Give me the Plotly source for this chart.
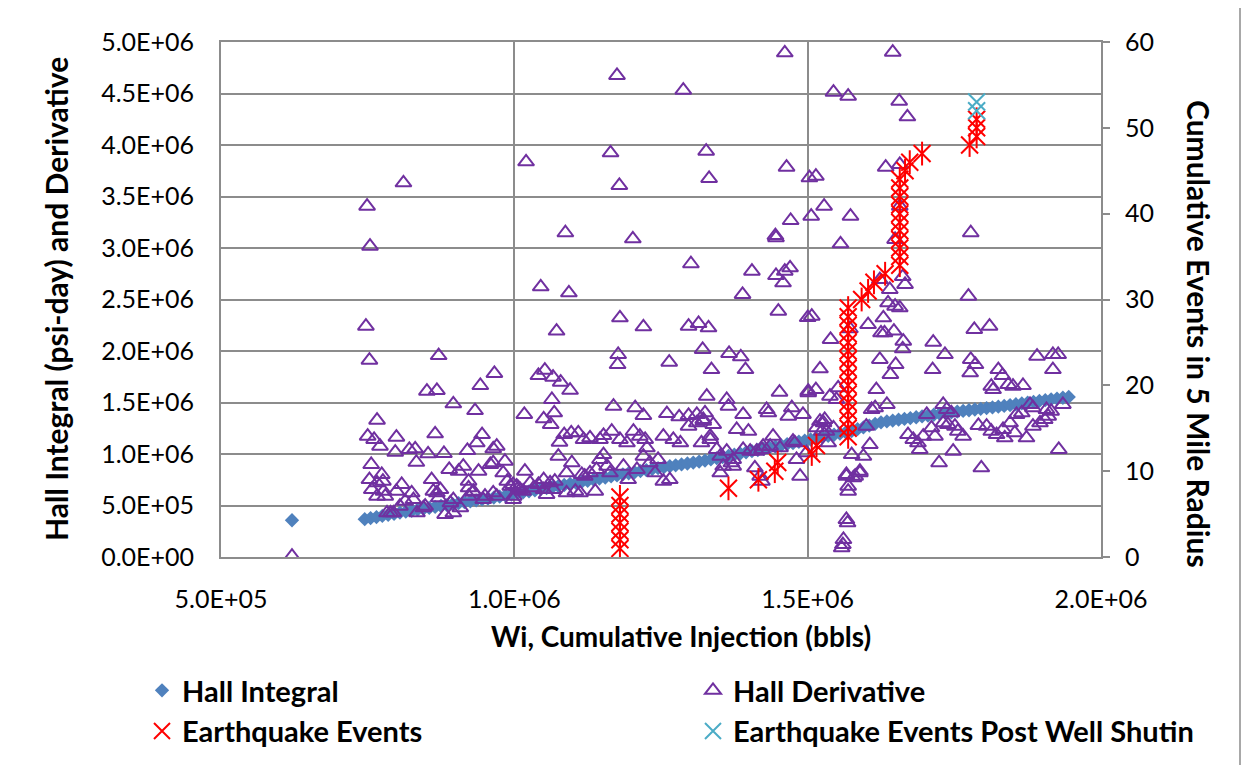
import plotly.graph_objects as go

# ---------------- data (x in thousand bbls, y in thousand psi-day) ----------------
hall_integral_pts = [
    (621, 357), (745, 367), (755, 378), (765, 388), (775, 399), (785, 410), (795, 420),
    (805, 431), (815, 440), (825, 449), (835, 459), (845, 468), (855, 477), (865, 486),
    (875, 495), (885, 504), (895, 514), (905, 523), (915, 532), (925, 541), (935, 550),
    (945, 559), (955, 568), (965, 577), (975, 586), (985, 596), (995, 607), (1005, 617),
    (1015, 628), (1025, 638), (1035, 648), (1045, 659), (1055, 669), (1065, 679), (1075, 689),
    (1085, 699), (1095, 710), (1105, 720), (1115, 730), (1125, 740), (1135, 751), (1145, 761),
    (1155, 771), (1165, 782), (1175, 792), (1185, 803), (1195, 813), (1205, 823), (1215, 834),
    (1225, 844), (1235, 854), (1245, 863), (1255, 872), (1265, 881), (1275, 890), (1285, 899),
    (1295, 908), (1305, 917), (1315, 926), (1325, 936), (1335, 947), (1345, 959), (1355, 970),
    (1365, 981), (1375, 993), (1385, 1004), (1395, 1016), (1405, 1027), (1415, 1039), (1425, 1050),
    (1435, 1062), (1445, 1073), (1455, 1084), (1465, 1096), (1475, 1107), (1485, 1119), (1495, 1130),
    (1505, 1141), (1515, 1153), (1525, 1164), (1535, 1176), (1545, 1187), (1555, 1199), (1565, 1210),
    (1575, 1223), (1585, 1241), (1595, 1258), (1605, 1275), (1615, 1293), (1625, 1308), (1635, 1316),
    (1645, 1325), (1655, 1333), (1665, 1341), (1675, 1349), (1685, 1357), (1695, 1365), (1705, 1373),
    (1715, 1381), (1725, 1389), (1735, 1397), (1745, 1405), (1755, 1412), (1765, 1418), (1775, 1425),
    (1785, 1432), (1795, 1439), (1805, 1446), (1815, 1452), (1825, 1459), (1835, 1467), (1845, 1475),
    (1855, 1483), (1865, 1491), (1875, 1499), (1885, 1507), (1895, 1515), (1905, 1523), (1915, 1531),
    (1925, 1538), (1935, 1546), (1945, 1554),
]

hall_derivative_pts = [
    (621, 8), (811, 3633), (749, 3406), (754, 3018), (1020, 3837), (1461, 4895), (1175, 4675),
    (1288, 4532), (1164, 3924), (1327, 3940), (1179, 3607), (1332, 3675), (1464, 3785), (1503, 3682),
    (1514, 3697), (1087, 3148), (1202, 3089), (1301, 2847), (1445, 3121), (1446, 3100), (1471, 3267),
    (1506, 3309), (1528, 3406), (1045, 2623), (1093, 2565), (1389, 2549), (1405, 2775), (1446, 2733),
    (1461, 2775), (1470, 2808), (1458, 2662), (1645, 4901), (1544, 4513), (1569, 4474), (1656, 4425),
    (1670, 4274), (1633, 3785), (1657, 3811), (1573, 3309), (1556, 3041), (1778, 3148), (1774, 2532),
    (1623, 2694), (1640, 2597), (1662, 2723), (1666, 2646), (1657, 3406), (1649, 3083), (1637, 2468),
    (1649, 2435), (1657, 2419), (1572, 2216),
    (747, 2241), (753, 1911), (871, 1956), (851, 1610), (868, 1617), (966, 1782), (942, 1665),
    (896, 1487), (933, 1422), (766, 1328), (750, 1173), (761, 1141), (771, 1076), (799, 1163),
    (797, 1018), (821, 1044), (831, 1050), (833, 920), (853, 1002), (865, 1196), (880, 1005),
    (889, 850), (905, 833), (913, 882), (920, 1034), (936, 1109), (945, 1189), (939, 833),
    (922, 736), (930, 639), (922, 590), (964, 1050), (970, 1076), (959, 898), (964, 915),
    (984, 930), (981, 817), (988, 736), (993, 688), (998, 704), (1007, 672), (998, 558),
    (950, 590), (947, 558), (756, 898), (753, 752), (766, 720), (774, 801), (776, 736),
    (757, 655), (766, 590), (777, 639), (780, 590), (783, 429), (789, 429), (794, 429),
    (799, 639), (808, 704), (805, 493), (814, 542), (825, 623), (828, 558), (834, 429),
    (845, 478), (848, 493), (859, 752), (862, 639), (868, 623), (874, 655), (871, 575),
    (882, 413), (896, 429), (908, 478), (896, 558), (891, 526), (922, 672), (930, 629),
    (964, 623), (970, 590), (1010, 655),
    (1072, 2193), (1180, 2322), (1220, 2235), (1297, 2241), (1314, 2267), (1331, 2225), (1450, 2387),
    (1500, 2325), (1177, 1966), (1176, 1869), (1264, 1891), (1321, 2015), (1336, 1820), (1366, 1976),
    (1386, 1944), (1394, 1820), (1041, 1762), (1052, 1814), (1066, 1746), (1079, 1697), (1095, 1619),
    (1064, 1529), (1017, 1384), (1050, 1342), (1068, 1400), (1062, 1287), (1077, 1115), (1075, 979),
    (1085, 1189), (1097, 1206), (1109, 1206), (1089, 817), (1098, 915), (1169, 1464), (1206, 1449),
    (1220, 1374), (1260, 1393), (1281, 1361), (1297, 1374), (1311, 1384), (1325, 1400), (1339, 1287),
    (1328, 1561), (1362, 1529), (1365, 1464), (1390, 1384), (1379, 1238), (1399, 1221), (1430, 1432),
    (1433, 1400), (1452, 1600), (1473, 1449), (1467, 1367), (1492, 1384), (1501, 1594), (1118, 1141),
    (1129, 1157), (1146, 1141), (1152, 1180), (1166, 1221), (1180, 1141), (1192, 1109), (1203, 1221),
    (1214, 1173), (1223, 1141), (1226, 1060), (1254, 1173), (1271, 1141), (1283, 1109), (1297, 1270),
    (1311, 1303), (1322, 1335), (1334, 1173), (1345, 1044), (1362, 1027), (1390, 1044), (1402, 1027),
    (1424, 1076), (1441, 1173), (1453, 1060), (1478, 1109), (1481, 947), (1487, 785), (1351, 817),
    (1356, 882), (1370, 915), (1373, 882), (1410, 866), (1422, 736), (1254, 736), (1265, 752),
    (1240, 817), (1231, 915), (1245, 947), (1220, 979), (1209, 850), (1194, 752), (1186, 882),
    (1146, 947), (1152, 995), (1158, 882), (1163, 817), (1138, 639), (1112, 623), (1104, 639),
    (1089, 623), (1129, 817), (1120, 785), (1115, 801), (1140, 850), (1018, 833), (1050, 752),
    (1061, 720), (1069, 736), (1041, 704), (1027, 720), (1004, 688), (999, 590), (1015, 639),
    (1033, 672), (1050, 655), (1067, 655), (1055, 607),
    (1507, 2338), (1539, 2112), (1521, 1827), (1501, 1610), (1514, 1626), (1603, 2257), (1629, 2322),
    (1625, 2177), (1631, 2177), (1647, 2193), (1663, 2095), (1662, 2021), (1623, 1918), (1650, 1869),
    (1641, 1772), (1617, 1626), (1552, 1643), (1538, 1561), (1549, 1529), (1609, 1432), (1615, 1449),
    (1635, 1481), (1600, 1270), (1606, 1092), (1595, 979), (1575, 995), (1589, 817), (1578, 769),
    (1566, 785), (1569, 688), (1569, 639), (1566, 364), (1568, 332), (1561, 170), (1560, 121),
    (1558, 89), (1521, 1318), (1529, 1335), (1544, 1254), (1535, 1109), (1524, 1221), (1498, 1012),
    (1703, 1384), (1711, 1254), (1717, 1173), (1671, 1189), (1680, 1141), (1688, 1109), (1691, 1044),
    (1697, 1173), (1724, 915), (1748, 1027), (1796, 866), (1714, 2086), (1734, 1966), (1713, 1820),
    (1784, 2209), (1810, 2241), (1778, 1918), (1786, 1869), (1777, 1788), (1825, 1820), (1832, 1762),
    (1842, 1675), (1850, 1658), (1867, 1665), (1813, 1658), (1816, 1626), (1891, 1950), (1918, 1966),
    (1927, 1966), (1918, 1820), (1935, 1481), (1879, 1481), (1884, 1449), (1907, 1432), (1915, 1416),
    (1910, 1367), (1865, 1400), (1856, 1384), (1731, 1481), (1737, 1432), (1745, 1400), (1731, 1303),
    (1739, 1287), (1751, 1270), (1756, 1221), (1765, 1173), (1791, 1277), (1805, 1270), (1813, 1221),
    (1822, 1189), (1833, 1238), (1836, 1157), (1845, 1303), (1853, 1206), (1873, 1157), (1884, 1270),
    (1896, 1303), (1904, 1335), (1928, 1044),
    (1322, 1318), (1319, 1109), (1334, 1141), (1436, 1076), (1475, 1125), (1515, 1254), (1527, 1303),
    (1532, 1221), (1351, 979), (1373, 947), (1419, 785), (1413, 1027), (1422, 1044), (1566, 801),
    (1581, 785), (1589, 833),
]

# cumulative earthquake events within 5 miles (right axis)
earthquake_x_k = [1180, 1180, 1180, 1180, 1180, 1180, 1180,
                  1365, 1416, 1444, 1449, 1507, 1515,
                  1569, 1569, 1569, 1569, 1569, 1569, 1569, 1569,
                  1569, 1569, 1569, 1569, 1569, 1569, 1569, 1569,
                  1592, 1603, 1613, 1632,
                  1657, 1657, 1657, 1657, 1657, 1657, 1657, 1657, 1657, 1657, 1657,
                  1666, 1674, 1695, 1776, 1788, 1788, 1788]
earthquake_count = [1, 2, 3, 4, 5, 6, 7,
                    8, 9, 10, 11, 12, 13,
                    14, 15, 16, 17, 18, 19, 20, 21,
                    22, 23, 24, 25, 26, 27, 28, 29,
                    30, 31, 32, 33,
                    34, 35, 36, 37, 38, 39, 40, 41, 42, 43, 44,
                    45, 46, 47, 48, 49, 50, 51]
post_shutin_x_k = [1788, 1788]
post_shutin_count = [52, 53]

x_tick_vals = [500000, 1000000, 1500000, 2000000]
x_tick_text = ["5.0E+05", "1.0E+06", "1.5E+06", "2.0E+06"]
y_tick_vals = [0, 500000, 1000000, 1500000, 2000000, 2500000, 3000000,
               3500000, 4000000, 4500000, 5000000]
y_tick_text = ["0.0E+00", "5.0E+05", "1.0E+06", "1.5E+06", "2.0E+06", "2.5E+06",
               "3.0E+06", "3.5E+06", "4.0E+06", "4.5E+06", "5.0E+06"]
y2_tick_vals = [0, 10, 20, 30, 40, 50, 60]

# ---------------- figure ----------------
GRID = "#8c8c8c"
FONT = "Lato, Open Sans, sans-serif"

hi_x = [p[0] * 1000 for p in hall_integral_pts]
hi_y = [p[1] * 1000 for p in hall_integral_pts]
hd_x = [p[0] * 1000 for p in hall_derivative_pts]
hd_y = [p[1] * 1000 for p in hall_derivative_pts]
eq_x = [v * 1000 for v in earthquake_x_k]
ps_x = [v * 1000 for v in post_shutin_x_k]

fig = go.Figure()
fig.add_trace(go.Scatter(
    x=hi_x, y=hi_y, mode="markers", name="Hall Integral",
    marker=dict(symbol="diamond", size=11, color="#4F81BD", line=dict(width=0)),
    legend="legend", legendgroup="a"))
fig.add_trace(go.Scatter(
    x=hd_x, y=hd_y, mode="markers", name="Hall Derivative",
    marker=dict(symbol="triangle-up-open", size=14, color="#7030A0",
                line=dict(color="#7030A0", width=2)),
    legend="legend2", legendgroup="b"))
fig.add_trace(go.Scatter(
    x=eq_x, y=earthquake_count, mode="markers", name="Earthquake Events", yaxis="y2",
    marker=dict(symbol="x-thin-open", size=17, color="#FF0000",
                line=dict(color="#FF0000", width=2)),
    legend="legend", legendgroup="c"))
fig.add_trace(go.Scatter(
    x=eq_x, y=earthquake_count, mode="markers", name="Earthquake Events", yaxis="y2",
    marker=dict(symbol="line-ns-open", size=17, color="#FF0000",
                line=dict(color="#FF0000", width=2)),
    showlegend=False, legendgroup="c", hoverinfo="skip"))
fig.add_trace(go.Scatter(
    x=ps_x, y=post_shutin_count, mode="markers", name="Earthquake Events Post Well Shutin",
    yaxis="y2",
    marker=dict(symbol="x-thin-open", size=17, color="#4BACC6",
                line=dict(color="#4BACC6", width=2)),
    legend="legend2", legendgroup="d"))

# page geometry (the page body adds an 8 px offset; the figure is made a bit taller
# than the window so the bottom legend never squeezes the plot area)
OFF = 8
PAGE_W = 1253
PLOT_L, PLOT_R, PLOT_T, PLOT_B = 221, 1101, 42, 557
W, H = PAGE_W - OFF, 800
L, T = PLOT_L - OFF, PLOT_T - OFF
R, B = W - (PLOT_R - OFF), H - (PLOT_B - OFF)
PW, PH = PLOT_R - PLOT_L, PLOT_B - PLOT_T


def px_x(px):
    return (px - PLOT_L) / PW


def px_y(py):
    return (PLOT_B - py) / PH


fig.update_layout(
    width=W, height=H,
    margin=dict(l=L, r=R, t=T, b=B, pad=0),
    paper_bgcolor="white", plot_bgcolor="white",
    font=dict(family=FONT, size=25, color="black"),
    showlegend=True,
    xaxis=dict(range=[500000, 2000000], tickvals=x_tick_vals, ticktext=x_tick_text,
               showgrid=True, gridcolor=GRID, gridwidth=2, zeroline=False,
               showline=True, linecolor=GRID, linewidth=2, mirror=True,
               ticks="", ticklabelstandoff=19, tickfont=dict(size=25)),
    yaxis=dict(range=[0, 5000000], tickvals=y_tick_vals, ticktext=y_tick_text,
               showgrid=True, gridcolor=GRID, gridwidth=2, zeroline=False,
               showline=True, linecolor=GRID, linewidth=2,
               ticks="", ticklabelstandoff=20, tickfont=dict(size=25)),
    yaxis2=dict(range=[0, 60], tickvals=y2_tick_vals, overlaying="y", side="right",
                showgrid=False, zeroline=False, showline=True, linecolor=GRID, linewidth=2,
                ticks="outside", ticklen=7, tickwidth=2, tickcolor=GRID,
                ticklabelstandoff=10, tickfont=dict(size=25)),
    legend=dict(x=px_x(142), y=px_y(665), xanchor="left", yanchor="top",
                orientation="v", bgcolor="rgba(0,0,0,0)", tracegroupgap=0,
                font=dict(family=FONT, size=29, color="black", weight="bold")),
    legend2=dict(x=px_x(693), y=px_y(665), xanchor="left", yanchor="top",
                 orientation="v", bgcolor="rgba(0,0,0,0)", tracegroupgap=0,
                 font=dict(family=FONT, size=29, color="black", weight="bold")),
    annotations=[
        dict(text="<b>Wi, Cumulative Injection (bbls)</b>", xref="paper", yref="paper",
             x=px_x(681), y=px_y(636), xanchor="center", yanchor="middle",
             showarrow=False, font=dict(family=FONT, size=28, color="black")),
        dict(text="<b>Hall Integral (psi-day) and Derivative</b>", xref="paper", yref="paper",
             x=px_x(56), y=px_y(299), xanchor="center", yanchor="middle", textangle=-90,
             showarrow=False, font=dict(family=FONT, size=30, color="black")),
        dict(text="<b>Cumulative Events in 5 Mile Radius</b>", xref="paper", yref="paper",
             x=px_x(1199), y=px_y(334), xanchor="center", yanchor="middle", textangle=90,
             showarrow=False, font=dict(family=FONT, size=30, color="black")),
    ],
    shapes=[dict(type="rect", xref="paper", yref="paper",
                 x0=px_x(3), x1=px_x(1240), y0=px_y(790), y1=px_y(2),
                 line=dict(color=GRID, width=1.5), fillcolor="rgba(0,0,0,0)", layer="below")],
)

fig.write_html("out.html")
